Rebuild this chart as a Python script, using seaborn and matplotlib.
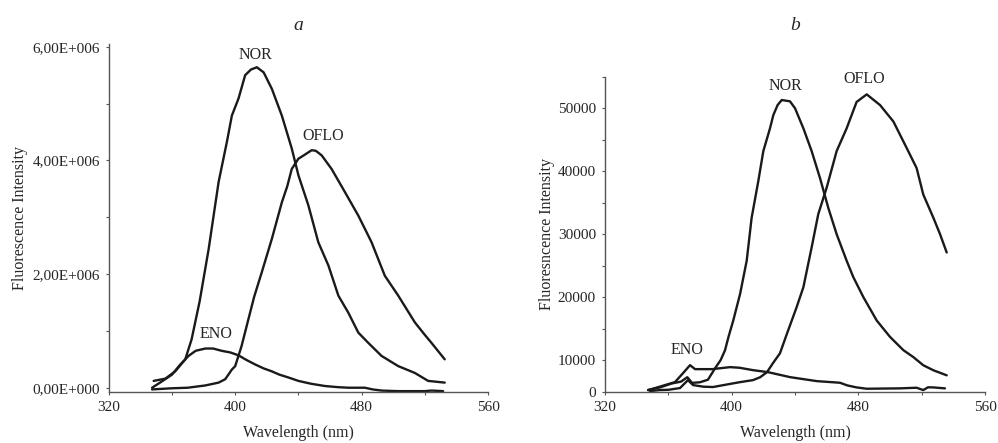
import numpy as np
import pandas as pd
import matplotlib
matplotlib.use("Agg")
import matplotlib.pyplot as plt
import seaborn as sns

# panel a (values in units of 1e6)
a_nor_x = [348.4, 355.8, 362.1, 368.4, 372.4, 377.5, 383.2, 389.5, 394.7, 397.9, 402.1, 406.3,
           410.0, 413.7, 418.0, 423.2, 429.5, 435.8, 440.0, 446.3, 452.6, 459.0, 465.3, 471.6,
           477.9, 484.2, 492.6, 503.2, 513.7, 522.1, 532.6]
a_nor_y = [0.12, 0.16, 0.29, 0.50, 0.85, 1.52, 2.44, 3.62, 4.32, 4.79, 5.09, 5.50,
           5.60, 5.64, 5.55, 5.26, 4.79, 4.21, 3.74, 3.21, 2.56, 2.15, 1.62, 1.32,
           0.97, 0.79, 0.56, 0.38, 0.26, 0.12, 0.09]

a_oflo_x = [347.4, 359.8, 370.0, 381.1, 389.5, 393.7, 397.9, 400.0, 404.0, 408.4, 412.0, 416.8,
            423.2, 429.5, 433.0, 435.8, 440.0, 444.0, 448.4, 451.0, 454.7, 461.0, 469.5, 477.9,
            486.3, 494.7, 503.2, 513.7, 520.0, 524.2, 532.6]
a_oflo_y = [-0.03, -0.01, 0.0, 0.04, 0.09, 0.15, 0.32, 0.38, 0.73, 1.21, 1.60, 2.03,
            2.62, 3.26, 3.55, 3.85, 4.03, 4.10, 4.18, 4.17, 4.09, 3.85, 3.44, 3.03,
            2.56, 1.97, 1.62, 1.15, 0.93, 0.79, 0.50]

a_eno_x = [347.4, 353.0, 360.0, 365.0, 370.5, 375.0, 381.1, 386.0, 391.4, 397.0, 402.1, 407.0,
           412.6, 418.0, 423.0, 428.0, 433.7, 440.0, 448.0, 456.8, 465.0, 471.6, 482.1, 487.0,
           492.6, 503.0, 513.7, 520.0, 524.2, 531.6]
a_eno_y = [0.0, 0.10, 0.23, 0.40, 0.56, 0.65, 0.69, 0.69, 0.65, 0.62, 0.57, 0.49,
           0.41, 0.34, 0.29, 0.23, 0.18, 0.12, 0.07, 0.03, 0.01, 0.0, 0.0, -0.03,
           -0.05, -0.06, -0.06, -0.06, -0.05, -0.06]

# panel b
b_nor_x = [347.2, 355.0, 362.0, 368.0, 372.0, 375.0, 380.0, 385.0, 390.0, 393.0, 395.8, 398.0,
           401.0, 405.3, 409.5, 412.6, 416.8, 420.0, 424.2, 426.3, 429.0, 431.6, 436.8, 440.0,
           445.3, 450.5, 455.8, 461.0, 466.3, 472.6, 476.8, 483.2, 491.6, 500.0, 508.4, 514.7,
           521.0, 527.4, 535.8]
b_nor_y = [5260, 5700, 6300, 6600, 7300, 6400, 6500, 6900, 8900, 10000, 11580, 13700,
           16300, 20500, 25800, 32600, 38400, 43200, 46800, 48900, 50500, 51300, 51100, 50000,
           46800, 43200, 38900, 34200, 30000, 25800, 23200, 20000, 16300, 13700, 11600, 10500,
           9200, 8400, 7600]

b_oflo_x = [348.4, 354.7, 360.0, 367.4, 372.4, 375.6, 382.0, 388.2, 396.0, 405.3, 413.5, 418.0,
            422.3, 426.0, 430.5, 435.0, 441.0, 445.3, 450.5, 454.7, 460.0, 466.3, 472.6, 478.9,
            485.3, 493.7, 502.1, 510.5, 516.8, 521.0, 527.4, 531.6, 535.8]
b_oflo_y = [5100, 5260, 5300, 5580, 6840, 6050, 5800, 5740, 6100, 6520, 6840, 7300,
            8100, 9500, 11100, 14270, 18400, 21600, 27900, 33200, 37400, 43200, 46800, 51000,
            52200, 50500, 47900, 43700, 40500, 36300, 32600, 30000, 27100]

b_eno_x = [347.2, 352.0, 357.9, 364.2, 369.3, 373.7, 376.9, 387.6, 399.0, 405.0, 413.5, 423.0,
           436.9, 453.7, 468.4, 473.0, 478.9, 485.3, 506.3, 516.8, 521.0, 524.0, 527.4, 534.7]
b_eno_y = [5260, 5600, 6050, 6520, 7950, 9210, 8580, 8580, 8900, 8800, 8420, 8100,
           7310, 6680, 6420, 6000, 5680, 5470, 5530, 5630, 5260, 5700, 5680, 5530]

x_ticks = [320, 400, 480, 560]
a_ticks = [0, 2, 4, 6]
a_tick_labels = ["0,00E+000", "2,00E+006", "4,00E+006", "6,00E+006"]
b_ticks = [5000, 10000, 20000, 30000, 40000, 50000]
b_tick_labels = ["0", "10000", "20000", "30000", "40000", "50000"]

sns.set_theme(style="ticks")
plt.rcParams["font.family"] = ["Liberation Serif", "DejaVu Serif"]

fig = plt.figure(figsize=(9.98, 4.43), dpi=100)
ax_a = fig.add_axes([0.109, 0.1158, 0.380, 0.785])
ax_b = fig.add_axes([0.6062, 0.1158, 0.3808, 0.711])

line_kw = dict(color="#1a1a1a", linewidth=1.7, sort=False, estimator=None)

for xs, ys in [(a_nor_x, a_nor_y), (a_oflo_x, a_oflo_y), (a_eno_x, a_eno_y)]:
    df = pd.DataFrame({"x": xs, "y": np.array(ys) * 1e6})
    sns.lineplot(data=df, x="x", y="y", ax=ax_a, **line_kw)

for xs, ys in [(b_nor_x, b_nor_y), (b_oflo_x, b_oflo_y), (b_eno_x, b_eno_y)]:
    df = pd.DataFrame({"x": xs, "y": ys})
    sns.lineplot(data=df, x="x", y="y", ax=ax_b, **line_kw)

fs = 11.5

# axes a
ax_a.set_xlim(320, 560)
ax_a.set_ylim(-0.07e6, 6.05e6)
ax_a.set_yticks([v * 1e6 for v in a_ticks])
ax_a.set_yticklabels(a_tick_labels)
ax_a.set_yticks([1e6, 3e6, 5e6], minor=True)
ax_a.set_ylabel("Fluorescence Intensity", fontsize=fs, labelpad=3)
ax_a.text(412.9, 5.85e6, "NOR", ha="center", va="center", fontsize=fs)
ax_a.text(455.8, 4.43e6, "OFLO", ha="center", va="center", fontsize=fs)
ax_a.text(387.6, 0.94e6, "ENO", ha="center", va="center", fontsize=fs)

# axes b
ax_b.set_xlim(320, 560)
ax_b.set_ylim(5000, 55000)
ax_b.set_yticks(b_ticks)
ax_b.set_yticklabels(b_tick_labels)
ax_b.set_yticks([15000, 25000, 35000, 45000, 55000], minor=True)
ax_b.set_ylabel("Fluoresncence Intensity", fontsize=fs, labelpad=2)
ax_b.text(433.7, 53600, "NOR", ha="center", va="center", fontsize=fs)
ax_b.text(483.6, 54560, "OFLO", ha="center", va="center", fontsize=fs)
ax_b.text(371.8, 11580, "ENO", ha="center", va="center", fontsize=fs)

for ax in (ax_a, ax_b):
    ax.set_xticks(x_ticks)
    ax.set_xticks([360, 440, 520], minor=True)
    ax.set_xlabel("Wavelength (nm)", fontsize=fs, labelpad=8)
    ax.tick_params(axis="both", which="both", length=2.5, width=0.8,
                   color="#555555", labelsize=11, pad=4)
    sns.despine(ax=ax)
    for side in ("left", "bottom"):
        ax.spines[side].set_color("#555555")
        ax.spines[side].set_linewidth(1.0)

fig.text(0.2986, 1 - 25 / 443, "a", ha="center", va="center",
         fontsize=14, style="italic")
fig.text(0.7966, 1 - 25 / 443, "b", ha="center", va="center",
         fontsize=14, style="italic")

fig.savefig("out.png", dpi=100)
